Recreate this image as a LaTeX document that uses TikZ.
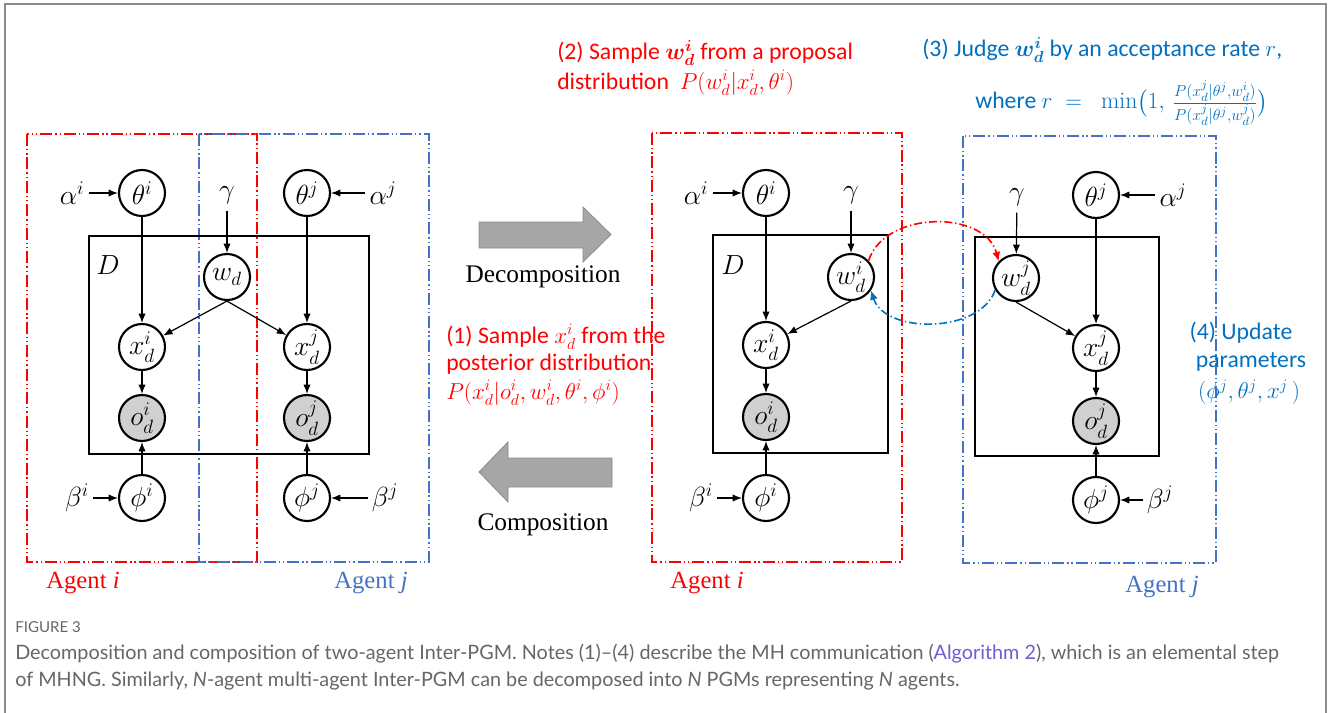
\documentclass[tikz,border=0pt]{standalone}
\usepackage{amsmath,bm}
\usepackage{fontspec}
\usetikzlibrary{arrows.meta}
\newfontfamily\notefont{Carlito}
\newfontfamily\romanfont{Liberation Serif}
\newfontfamily\capfont{Lato}
\definecolor{agentred}{HTML}{FF0000}
\definecolor{agentblue}{HTML}{4472C4}
\definecolor{noteblue}{HTML}{0070C0}
\definecolor{framegray}{HTML}{8C8C8C}
\definecolor{obsgray}{HTML}{D0D0D0}
\definecolor{capgray}{HTML}{666666}
\definecolor{linkpurple}{HTML}{6B5FD3}
\definecolor{blockfill}{HTML}{A6A6A6}
\definecolor{blockline}{HTML}{8C8C8C}
\newcommand\pgmfont{\fontsize{20}{23}\selectfont}
\newcommand\notesize{\notefont\fontsize{17.8}{21}\selectfont}
\tikzset{
  var/.style={circle,draw,line width=1.6pt,minimum size=34.5pt,inner sep=0pt,font=\pgmfont},
  obs/.style={var,fill=obsgray},
  lbl/.style={inner sep=3pt,font=\pgmfont},
  edge/.style={line width=0.9pt,-{Latex[length=7pt,width=5.5pt]}},
  plate/.style={draw,line width=1.6pt},
  agentbox/.style={line width=1.1pt,dash pattern=on 9pt off 2.2pt on 1pt off 2.2pt on 1pt off 2.2pt},
  redbox/.style={agentbox,draw=agentred},
  bluebox/.style={agentbox,draw=agentblue},
  agentlbl/.style={font=\romanfont\fontsize{18.5}{22}\selectfont,inner sep=0pt},
  note/.style={anchor=west,inner sep=0pt,font=\notesize},
  msgline/.style={line width=1.2pt,dash pattern=on 6pt off 2.2pt on 1pt off 2.2pt},
  block/.style={fill=blockfill,draw=blockline,line width=0.6pt},
  steplbl/.style={font=\romanfont\fontsize{19}{22}\selectfont,inner sep=0pt},
  caption/.style={anchor=west,inner sep=0pt,text=capgray,font=\capfont\fontsize{14.85}{17}\selectfont},
}
\begin{document}
\begin{tikzpicture}[x=0.75pt,y=-0.75pt]
\useasboundingbox (0,0) rectangle (1330,713);
% page frame
\draw[framegray,line width=1.5pt] (5,713) -- (5,4) -- (1326,4) -- (1326,713);

% ---------- joint model of the two agents ----------
\draw[redbox] (27,134) rectangle (257,562);
\draw[bluebox] (199,134) rectangle (429,562);
\draw[plate] (89,236) rectangle (369,454);
\node[lbl] (pD) at (108,265) {$D$};
\node[var] (thi) at (142,193) {$\theta^i$};
\node[var] (thj) at (307,193) {$\theta^j$};
\node[lbl] (ai) at (72,193) {$\alpha^i$};
\node[lbl] (aj) at (383,193) {$\alpha^j$};
\node[lbl] (g) at (227,195) {$\gamma$};
\node[var] (wd) at (227,277) {$w_d$};
\node[var] (xi) at (142,347) {$x_d^i$};
\node[var] (xj) at (307,347) {$x_d^j$};
\node[obs] (oi) at (142,418) {$o_d^i$};
\node[obs] (oj) at (307,418) {$o_d^j$};
\node[var] (phi) at (142,498) {$\phi^i$};
\node[var] (phj) at (307,498) {$\phi^j$};
\node[lbl] (bi) at (77,498) {$\beta^i$};
\node[lbl] (bj) at (385,498) {$\beta^j$};
\draw[edge] (ai) -- (thi);
\draw[edge] (aj) -- (thj);
\draw[edge,shorten <=2pt] (g) -- (wd);
\draw[edge] (thi) -- (xi);
\draw[edge] (thj) -- (xj);
\draw[edge] (wd.south) -- (xi);
\draw[edge] (wd.south) -- (xj);
\draw[edge] (xi) -- (oi);
\draw[edge] (xj) -- (oj);
\draw[edge] (phi) -- (oi);
\draw[edge] (phj) -- (oj);
\draw[edge] (bi) -- (phi);
\draw[edge] (bj) -- (phj);
\node[agentlbl,text=agentred] (lai) at (83,583) {Agent \textit{i}};
\node[agentlbl,text=agentblue] (laj) at (371,583) {Agent \textit{j}};

% ---------- decomposition / composition ----------
\draw[block] (479,222) -- (583,222) -- (583,207) -- (611,234.5) -- (583,262) -- (583,248) -- (479,248) -- cycle;
\node[steplbl] (dec) at (543,277) {Decomposition};
\draw[block] (612,458) -- (508,458) -- (508,442) -- (479,472) -- (508,502) -- (508,487) -- (612,487) -- cycle;
\node[steplbl] (com) at (543,525) {Composition};

\node[note,text=agentred] (n1a) at (446,337) {(1) Sample $x_d^i$ from the};
\node[note,text=agentred] (n1b) at (446,364) {posterior distribution};
\node[note,text=agentred] (n1c) at (446,393) {$P(x_d^i|o_d^i,w_d^i,\theta^i,\phi^i)$};

% ---------- agent i ----------
\draw[redbox] (652,133) rectangle (902,562);
\draw[plate] (713,235) rectangle (888,453);
\node[lbl] (rD) at (733,265) {$D$};
\node[var] (thi2) at (766,193) {$\theta^i$};
\node[lbl] (ai2) at (696,193) {$\alpha^i$};
\node[lbl] (g2) at (851,195) {$\gamma$};
\node[var] (wdi) at (851,277) {$w_d^i$};
\node[var] (xi2) at (766,345) {$x_d^i$};
\node[obs] (oi2) at (766,417) {$o_d^i$};
\node[var] (phi2) at (766,498) {$\phi^i$};
\node[lbl] (bi2) at (701,498) {$\beta^i$};
\draw[edge] (ai2) -- (thi2);
\draw[edge,shorten <=2pt] (g2) -- (wdi);
\draw[edge] (thi2) -- (xi2);
\draw[edge] (wdi.south) -- (xi2);
\draw[edge] (xi2) -- (oi2);
\draw[edge] (phi2) -- (oi2);
\draw[edge] (bi2) -- (phi2);
\node[agentlbl,text=agentred] (lai2) at (707,583) {Agent \textit{i}};

% ---------- agent j ----------
\draw[bluebox] (963,136) rectangle (1216,563);
\draw[plate] (975,237) rectangle (1159,456);
\node[var] (thj2) at (1096,195) {$\theta^j$};
\node[lbl] (aj2) at (1173,195) {$\alpha^j$};
\node[lbl] (g3) at (1017,197) {$\gamma$};
\node[var] (wdj) at (1016,278) {$w_d^j$};
\node[var] (xj2) at (1096,348) {$x_d^j$};
\node[obs] (oj2) at (1096,421) {$o_d^j$};
\node[var] (phj2) at (1096,500) {$\phi^j$};
\node[lbl] (bj2) at (1160,500) {$\beta^j$};
\draw[edge] (aj2) -- (thj2);
\draw[edge,shorten <=2pt] (g3) -- (wdj);
\draw[edge] (thj2) -- (xj2);
\draw[edge] (wdj.south) -- (xj2);
\draw[edge] (xj2) -- (oj2);
\draw[edge] (phj2) -- (oj2);
\draw[edge] (bj2) -- (phj2);
\node[agentlbl,text=agentblue] (laj2) at (1162,587) {Agent \textit{j}};

% ---------- MH communication ----------
\draw[msgline,agentred,-{Latex[length=7pt,width=6pt]}] (wdi.43) .. controls (885,210) and (985,210) .. (wdj.136);
\draw[msgline,noteblue,-{Latex[length=7pt,width=6pt]}] (wdj.210) .. controls (980,334) and (885,334) .. (wdi.-34);

\node[note,text=agentred] (n2a) at (557,53) {(2) Sample $\bm{w_d^i}$ from a proposal};
\node[note,text=agentred] (n2b) at (557,83) {distribution\ \ $P(w_d^i|x_d^i,\theta^i)$};
\node[note,text=noteblue] (n3a) at (922,50) {(3) Judge $\bm{w_d^i}$ by an acceptance rate $r$,};
\node[note,text=noteblue] (n3b) at (975,103) {where $r\;=\;\;\min\bigl(1,\,\frac{P(x_d^j|\theta^j,w_d^i)}{P(x_d^j|\theta^j,w_d^j)}\bigr)$};
\node[font=\notesize,text=noteblue,inner sep=0pt] (n4a) at (1241,333) {(4) Update};
\node[font=\notesize,text=noteblue,inner sep=0pt] (n4b) at (1251,362) {parameters};
\node[font=\notesize,text=noteblue,inner sep=0pt] (n4c) at (1249,392) {$(\phi^j,\theta^j,x^j\,)$};

% ---------- caption ----------
\node[caption,font=\capfont\fontsize{11.3}{13}\selectfont] (cap0) at (15,627) {FIGURE 3};
\node[caption] (cap1) at (15,654) {Decomposition and composition of two-agent Inter-PGM. Notes (1)\textendash(4) describe the MH communication (\textcolor{linkpurple}{Algorithm 2}), which is an elemental step};
\node[caption] (cap2) at (15,681) {of MHNG. Similarly, \textit{N}-agent multi-agent Inter-PGM can be decomposed into \textit{N} PGMs representing \textit{N} agents.};
\end{tikzpicture}
\end{document}
